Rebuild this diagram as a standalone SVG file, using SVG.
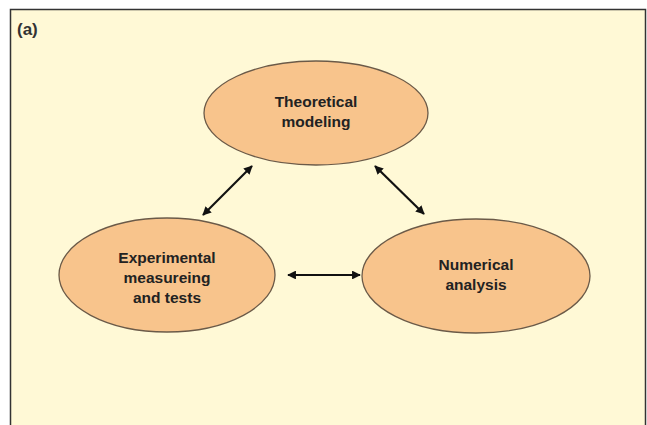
<svg xmlns="http://www.w3.org/2000/svg" width="647" height="425" viewBox="0 0 647 425">
<defs>
<marker id="ah" viewBox="0 0 10 10" refX="9" refY="5" markerWidth="4" markerHeight="4" orient="auto-start-reverse" markerUnits="strokeWidth">
<path d="M0,0 L10,5 L0,10 z" fill="#111"/>
</marker>
<style>
.node ellipse{fill:#F8C48C;stroke:#6b5a48;stroke-width:1.3}
.node text{font-family:"Liberation Sans",Arial,sans-serif;font-weight:bold;font-size:15.5px;fill:#222;text-anchor:middle}
.conn line{stroke:#111;stroke-width:2.2;marker-start:url(#ah);marker-end:url(#ah)}
</style>
</defs>
<rect x="0" y="0" width="647" height="425" fill="#ffffff"/>
<rect x="10.5" y="9.5" width="635" height="420" fill="#FFF9D6" stroke="#333" stroke-width="1.5"/>
<text x="17" y="35" font-family="Liberation Sans,Arial,sans-serif" font-weight="bold" font-size="17" fill="#333">(a)</text>
<g class="conn">
<line x1="252" y1="166" x2="203" y2="215"/>
<line x1="375" y1="166" x2="424" y2="214"/>
<line x1="288" y1="275" x2="360" y2="275"/>
</g>
<g id="theory" class="node">
<ellipse cx="316" cy="113" rx="112" ry="52"/>
<text x="316" y="107">Theoretical</text>
<text x="316" y="127">modeling</text>
</g>
<g id="experiment" class="node">
<ellipse cx="167" cy="275" rx="108" ry="57"/>
<text x="167" y="263">Experimental</text>
<text x="167" y="283">measureing</text>
<text x="167" y="303">and tests</text>
</g>
<g id="numerical" class="node">
<ellipse cx="476" cy="276" rx="114" ry="57"/>
<text x="476" y="270">Numerical</text>
<text x="476" y="290">analysis</text>
</g>
</svg>
